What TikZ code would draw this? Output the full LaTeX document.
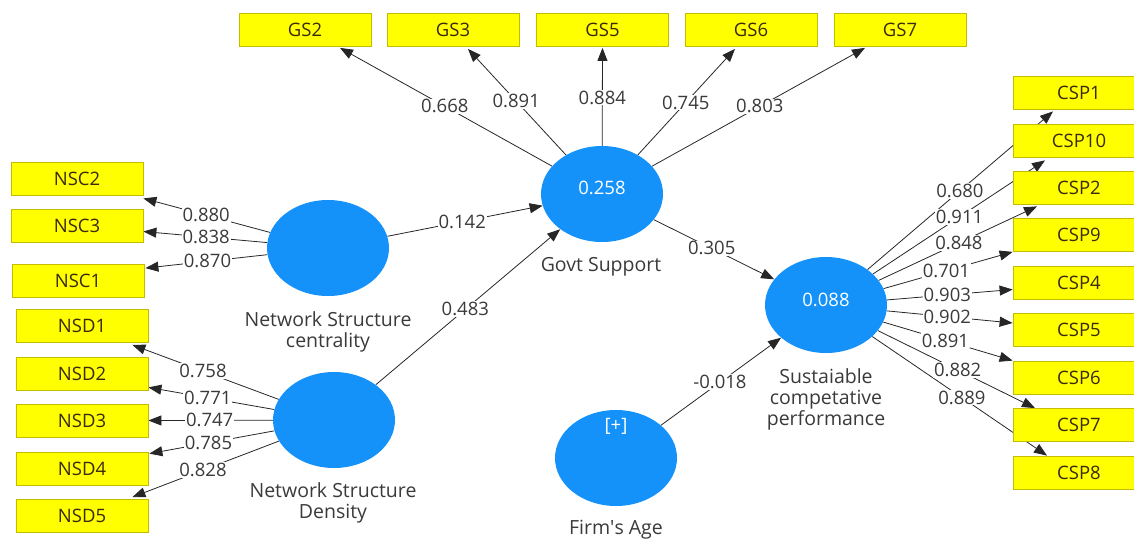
\documentclass[tikz,border=0pt]{standalone}
\usepackage{fontspec}
\setmainfont{Open Sans}
\usetikzlibrary{calc,arrows.meta,shapes.geometric}
\pgfdeclarelayer{bg}
\pgfsetlayers{bg,main}
\definecolor{boxyellow}{HTML}{FFFF00}
\definecolor{boxedge}{HTML}{C4BC00}
\definecolor{lvblue}{HTML}{1592FA}
\definecolor{txtgray}{HTML}{3A3A3A}
\definecolor{boxtxt}{HTML}{3A2A10}
\begin{document}
\begin{tikzpicture}[x=1pt,y=-1pt,
  ind/.style={draw=boxedge, fill=boxyellow, line width=0.8pt, minimum width=132pt,
    minimum height=33pt, inner sep=0pt, text=boxtxt, font=\fontsize{18.5}{20}\selectfont},
  lv/.style={ellipse, fill=lvblue, minimum width=122pt, minimum height=96pt, inner sep=0pt},
  coef/.style={fill=white, inner sep=1pt, text=txtgray, font=\fontsize{18.5}{20}\selectfont},
  lvname/.style={text=txtgray, align=center, font=\fontsize{19.5}{21}\selectfont},
  lvval/.style={text=white, font=\fontsize{18.5}{20}\selectfont},
  arr/.style={draw=black!85, line width=0.8pt, -{Triangle[length=13pt,width=10pt]}}
]
\useasboundingbox (0,0) rectangle (1134,538);

% latent variables
\node[lv] (nsc) at (328,248) {};
\node[lv] (nsd) at (334,420) {};
\node[lv] (gsup) at (602,194) {};
\node[lv] (firm) at (616,458) {};
\node[lv] (scp) at (826,305) {};
\node[lvval] (gsupv) at (602,188) {0.258};
\node[lvval] (scpv) at (826,300) {0.088};
\node[lvval] (firmv) at (616,426) {[+]};
\node[lvname] (nscn) at (328,332) {Network Structure\\centrality};
\node[lvname] (nsdn) at (333,503) {Network Structure\\Density};
\node[lvname] (gsupn) at (601,267) {Govt Support};
\node[lvname] (scpn) at (826,399) {Sustaiable\\competative\\performance};
\node[lvname] (firmn) at (616,530) {Firm\textquotesingle s Age};

% indicators
\node[ind] (gs2) at (305,30) {GS2};
\node[ind] (gs3) at (453,30) {GS3};
\node[ind] (gs5) at (602.5,30) {GS5};
\node[ind] (gs6) at (751,30) {GS6};
\node[ind] (gs7) at (900,30) {GS7};
\node[ind] (nsc2) at (77,178.5) {NSC2};
\node[ind] (nsc3) at (77,225.5) {NSC3};
\node[ind] (nsc1) at (78,281) {NSC1};
\node[ind] (nsd1) at (82,326) {NSD1};
\node[ind] (nsd2) at (82,373.5) {NSD2};
\node[ind] (nsd3) at (82,420.5) {NSD3};
\node[ind] (nsd4) at (82,468.5) {NSD4};
\node[ind] (nsd5) at (82,516) {NSD5};
\node[ind] (csp1) at (1079,92.5) {CSP1};
\node[ind] (csp10) at (1079,140.5) {CSP10};
\node[ind] (csp2) at (1079,187.5) {CSP2};
\node[ind] (csp9) at (1079,235) {CSP9};
\node[ind] (csp4) at (1079,282.5) {CSP4};
\node[ind] (csp5) at (1079,330) {CSP5};
\node[ind] (csp6) at (1079,377.5) {CSP6};
\node[ind] (csp7) at (1079,425) {CSP7};
\node[ind] (csp8) at (1079,472.5) {CSP8};

% arrow tips
\coordinate (tgs2) at ($(gs2.south)+(35,1)$);
\coordinate (tgs3) at ($(gs3.south)+(15,2)$);
\coordinate (tgs5) at ($(gs5.south)+(0,1)$);
\coordinate (tgs6) at ($(gs6.south)+(-16,2)$);
\coordinate (tgs7) at ($(gs7.south)+(-35,1)$);
\coordinate (tnsc2) at ($(nsc2.south east)+(0,3)$);
\coordinate (tnsc3) at ($(nsc3.east)+(0,6)$);
\coordinate (tnsc1) at ($(nsc1.north east)+(1,4)$);
\coordinate (tnsd1) at ($(nsd1.south east)+(-16,2)$);
\coordinate (tnsd2) at ($(nsd2.south east)+(0,-3)$);
\coordinate (tnsd3) at (nsd3.east);
\coordinate (tnsd4) at ($(nsd4.north east)+(1,2)$);
\coordinate (tnsd5) at ($(nsd5.north east)+(-16,-2)$);
\coordinate (tcsp1) at ($(csp1.south)+(-26,2)$);
\coordinate (tcsp10) at ($(csp10.south)+(-34,3)$);
\coordinate (tcsp2) at ($(csp2.south)+(-42,2)$);
\coordinate (tcsp9) at (csp9.south west);
\coordinate (tcsp4) at ($(csp4.west)+(0,7)$);
\coordinate (tcsp5) at ($(csp5.west)+(0,-7)$);
\coordinate (tcsp6) at (csp6.north west);
\coordinate (tcsp7) at ($(csp7.north)+(-44,0)$);
\coordinate (tcsp8) at ($(csp8.north)+(-32,0)$);

\begin{pgfonlayer}{bg}
\foreach \t in {gs2,gs3,gs5,gs6,gs7}{\draw[arr] (gsup) -- (t\t);}
\foreach \t in {nsc2,nsc3,nsc1}{\draw[arr] (nsc) -- (t\t);}
\foreach \t in {nsd1,nsd2,nsd3,nsd4,nsd5}{\draw[arr] (nsd) -- (t\t);}
\foreach \t in {csp1,csp10,csp2,csp9,csp4,csp5,csp6,csp7,csp8}{\draw[arr] (scp) -- (t\t);}
\draw[arr] (nsc) -- (gsup);
\draw[arr] (nsd) -- (gsup);
\draw[arr] (gsup) -- (scp);
\draw[arr] (firm) -- (scp);
\end{pgfonlayer}

% coefficients
\node[coef] at ($(gsup.center)!0.60!(tgs2)$) {0.668};
\node[coef] at ($(gsup.center)!0.64!(tgs3)$) {0.891};
\node[coef] at ($(gsup.center)!0.66!(tgs5)$) {0.884};
\node[coef] at ($(gsup.center)!0.63!(tgs6)$) {0.745};
\node[coef] at ($(gsup.center)!0.60!(tgs7)$) {0.803};
\node[coef] at ($(nsc.center)!0.66!(tnsc2)$) {0.880};
\node[coef] at ($(nsc.center)!0.66!(tnsc3)$) {0.838};
\node[coef] at ($(nsc.center)!0.66!(tnsc1)$) {0.870};
\node[coef] at ($(nsd.center)!0.65!(tnsd1)$) {0.758};
\node[coef] at ($(nsd.center)!0.68!(tnsd2)$) {0.771};
\node[coef] at ($(nsd.center)!0.67!(tnsd3)$) {0.747};
\node[coef] at ($(nsd.center)!0.68!(tnsd4)$) {0.785};
\node[coef] at ($(nsd.center)!0.65!(tnsd5)$) {0.828};
\node[coef] at ($(nsc.center)!0.49!(gsup.center)$) {0.142};
\node[coef] at ($(nsd.center)!0.49!(gsup.center)$) {0.483};
\node[coef] at ($(gsup.center)!0.49!(scp.center)$) {0.305};
\node[coef] at ($(firm.center)!0.495!(scp.center)$) {-0.018};
\node[coef] at ($(scp.center)!0.59!(tcsp1)$) {0.680};
\node[coef] at ($(scp.center)!0.61!(tcsp10)$) {0.911};
\node[coef] at ($(scp.center)!0.63!(tcsp2)$) {0.848};
\node[coef] at ($(scp.center)!0.645!(tcsp9)$) {0.701};
\node[coef] at ($(scp.center)!0.65!(tcsp4)$) {0.903};
\node[coef] at ($(scp.center)!0.65!(tcsp5)$) {0.902};
\node[coef] at ($(scp.center)!0.64!(tcsp6)$) {0.891};
\node[coef] at ($(scp.center)!0.63!(tcsp7)$) {0.882};
\node[coef] at ($(scp.center)!0.615!(tcsp8)$) {0.889};
\end{tikzpicture}
\end{document}
